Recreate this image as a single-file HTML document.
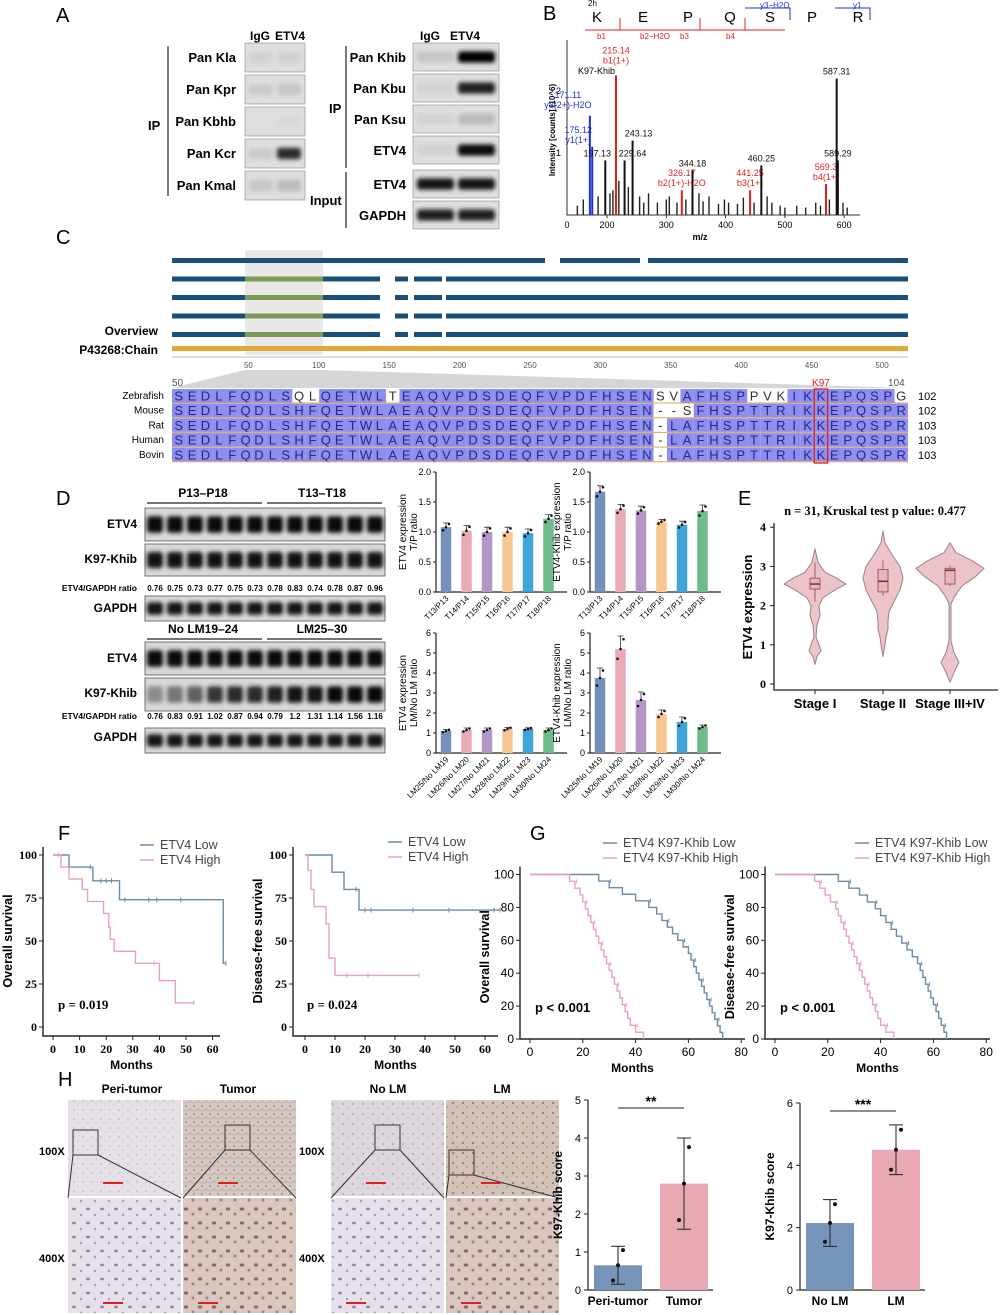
<!DOCTYPE html>
<html><head><meta charset="utf-8"><style>
html,body{margin:0;padding:0;background:#fff}
svg{display:block;font-family:"Liberation Sans",Arial,sans-serif}
.b{font-weight:bold}
.s{font-family:"Liberation Serif",serif;font-weight:bold}
</style></head><body>
<svg id="fig" width="1000" height="1315" viewBox="0 0 1000 1315" xmlns="http://www.w3.org/2000/svg">
<defs>
<filter id="bl" x="-20%" y="-50%" width="140%" height="200%"><feGaussianBlur stdDeviation="2.2"/></filter>
<pattern id="pPeri" width="9" height="9" patternUnits="userSpaceOnUse"><rect width="9" height="9" fill="#e4e0e6"/><circle cx="2" cy="3" r="0.8" fill="#b7aec4"/><circle cx="6" cy="7" r="0.6" fill="#c9c0cf"/></pattern>
<pattern id="pTum" width="8" height="8" patternUnits="userSpaceOnUse"><rect width="8" height="8" fill="#d6c9c4"/><circle cx="2" cy="2" r="1" fill="#a88f85"/><circle cx="6" cy="5" r="0.8" fill="#b39a94"/><path d="M0 7 L8 6" stroke="#c2aca6" stroke-width="0.7"/></pattern>
<pattern id="pPeri4" width="14" height="14" patternUnits="userSpaceOnUse"><rect width="14" height="14" fill="#e6e1e9"/><ellipse cx="4" cy="5" rx="2" ry="1.4" fill="#8f84a8"/><circle cx="11" cy="11" r="1.2" fill="#a69abb"/></pattern>
<pattern id="pTum4" width="14" height="14" patternUnits="userSpaceOnUse"><rect width="14" height="14" fill="#d9c7c0"/><ellipse cx="4" cy="5" rx="2.2" ry="1.6" fill="#8a6a63"/><circle cx="11" cy="10" r="1.5" fill="#a4837a"/></pattern>
<pattern id="pLM" width="10" height="10" patternUnits="userSpaceOnUse"><rect width="10" height="10" fill="#d2c2b8"/><circle cx="3" cy="3" r="1.1" fill="#9c7a6a"/><circle cx="7" cy="7" r="0.9" fill="#b08f7f"/></pattern>
<pattern id="pNoLM" width="10" height="10" patternUnits="userSpaceOnUse"><rect width="10" height="10" fill="#ddd6dc"/><circle cx="3" cy="4" r="0.9" fill="#a397b0"/><circle cx="8" cy="8" r="0.7" fill="#bdb1c2"/></pattern>
</defs>

<g class="letters" font-size="20">
<text x="56" y="22">A</text>
<text x="543" y="20">B</text>
<text x="56" y="244">C</text>
<text x="56" y="505">D</text>
<text x="738" y="505">E</text>
<text x="58" y="840">F</text>
<text x="530" y="840">G</text>
<text x="58" y="1086">H</text>
</g>

<g id="panelA" font-size="13" class="b">
<text x="260" y="40" class="b" font-size="12" text-anchor="middle">IgG</text>
<text x="290" y="40" class="b" font-size="12" text-anchor="middle">ETV4</text>
<text x="430" y="40" class="b" font-size="12" text-anchor="middle">IgG</text>
<text x="465" y="40" class="b" font-size="12" text-anchor="middle">ETV4</text>
<path d="M168 46 V196" stroke="#222" stroke-width="1.2"/>
<text x="148" y="130" class="b">IP</text>
<path d="M346 46 V168" stroke="#222" stroke-width="1.2"/>
<text x="329" y="113" class="b">IP</text>
<path d="M346 172 V228" stroke="#222" stroke-width="1.2"/>
<text x="310" y="205" class="b">Input</text>
</g>

<g id="panelC">
<text x="158" y="335" font-size="12" class="b" text-anchor="end">Overview</text>
<text x="158" y="354" font-size="12" class="b" text-anchor="end">P43268:Chain</text>
<rect x="245" y="250" width="78" height="105" fill="#e8e8e8"/>
<rect x="172" y="346" width="736" height="5" fill="#e0a838"/>
<path d="M245 370 L323 370 L908 388 L172 388 Z" fill="#d6d6d6"/>
<text x="172" y="386" font-size="10" fill="#555">50</text>
<text x="888" y="386" font-size="10" fill="#555">104</text>
</g>

<g id="panelD" font-size="12" class="b">
<text x="203" y="497" text-anchor="middle">P13–P18</text>
<text x="322" y="497" text-anchor="middle">T13–T18</text>
<path d="M147 503 H262 M267 503 H382" stroke="#222" stroke-width="1.3"/>
<text x="137" y="528" text-anchor="end">ETV4</text>
<text x="137" y="563" text-anchor="end">K97-Khib</text>
<text x="137" y="591" font-size="8.5" text-anchor="end">ETV4/GAPDH ratio</text>
<text x="137" y="612" text-anchor="end">GAPDH</text>
<text x="203" y="633" text-anchor="middle">No LM19–24</text>
<text x="322" y="633" text-anchor="middle">LM25–30</text>
<path d="M147 639 H262 M267 639 H382" stroke="#222" stroke-width="1.3"/>
<text x="137" y="662" text-anchor="end">ETV4</text>
<text x="137" y="697" text-anchor="end">K97-Khib</text>
<text x="137" y="719" font-size="8.5" text-anchor="end">ETV4/GAPDH ratio</text>
<text x="137" y="741" text-anchor="end">GAPDH</text>
</g>

<g id="panelH">
<text x="132" y="1093" font-size="12" class="b" text-anchor="middle">Peri-tumor</text>
<text x="238" y="1093" font-size="12" class="b" text-anchor="middle">Tumor</text>
<text x="388" y="1093" font-size="12" class="b" text-anchor="middle">No LM</text>
<text x="502" y="1093" font-size="12" class="b" text-anchor="middle">LM</text>
<text x="39" y="1155" font-size="11" class="b">100X</text>
<text x="39" y="1262" font-size="11" class="b">400X</text>
<text x="299" y="1155" font-size="11" class="b">100X</text>
<text x="299" y="1262" font-size="11" class="b">400X</text>
<rect x="68" y="1100" width="113" height="96" fill="url(#pPeri)"/>
<rect x="183" y="1100" width="113" height="96" fill="url(#pTum)"/>
<rect x="68" y="1198" width="113" height="115" fill="url(#pPeri4)"/>
<rect x="183" y="1198" width="113" height="115" fill="url(#pTum4)"/>
<rect x="331" y="1100" width="113" height="96" fill="url(#pNoLM)"/>
<rect x="446" y="1100" width="113" height="96" fill="url(#pLM)"/>
<rect x="331" y="1198" width="113" height="115" fill="url(#pPeri4)"/>
<rect x="446" y="1198" width="113" height="115" fill="url(#pTum4)"/>
<g fill="none" stroke="#333" stroke-width="1">
<rect x="73" y="1130" width="25" height="25"/><rect x="225" y="1125" width="25" height="25"/>
<rect x="375" y="1125" width="25" height="25"/><rect x="449" y="1150" width="25" height="25"/>
<path d="M73 1155 L68 1198 M98 1155 L181 1198 M225 1150 L183 1198 M250 1150 L296 1198 M375 1150 L331 1198 M400 1150 L444 1198 M449 1175 L446 1198 M474 1175 L559 1198"/>
</g>
<g stroke="#e02020" stroke-width="2">
<path d="M103 1183 H123 M218 1183 H238 M366 1183 H386 M481 1183 H501 M103 1303 H123 M198 1303 H218 M346 1303 H366 M461 1303 H481"/>
</g>
</g>

<g id="dyn"></g>
</svg>
<script>
// ===== DATA =====
const bMajorMz = [171.11, 175.12, 197.13, 215.14, 229.64, 243.13, 326.17, 344.18, 441.25, 460.25, 569.3, 587.31, 589.29];
const bMajorInt = [1.6, 1.1, 0.88, 2.25, 0.88, 1.2, 0.4, 0.72, 0.4, 0.8, 0.5, 2.2, 0.88];
const bMajorColor = ["blue","blue","black","red","black","black","red","black","red","black","red","black","black"];
const bMajorLabel = ["171.11\ny3(2+)-H2O","175.12\ny1(1+)","197.13","215.14\nb1(1+)","229.64","243.13","326.17\nb2(1+)-H2O","344.18","441.25\nb3(1+)","460.25","569.3\nb4(1+)","587.31","589.29"];
const bLabelDx = [-22,-14,-8,0,8,6,0,0,0,0,0,0,0];
const bMinorMz = [150,160,185,205,210,220,236,255,262,270,285,300,305,318,333,355,362,372,388,398,405,420,430,448,470,478,492,500,520,535,552,560,575,598,605];
const bMinorInt = [0.15,0.25,0.3,0.35,0.4,0.55,0.45,0.3,0.2,0.35,0.2,0.25,0.3,0.2,0.25,0.35,0.22,0.3,0.18,0.25,0.2,0.18,0.28,0.2,0.3,0.2,0.15,0.12,0.15,0.12,0.2,0.15,0.25,0.2,0.12];
const bXTicks = [200, 300, 400, 500, 600];
const bYTicks = [1, 2];

const cSpecies = ["Zebrafish","Mouse","Rat","Human","Bovin"];
const cSeqs = [
 "SEDLFQDLSQLQETWLTEAQVPDSDEQFVPDFHSENSVAFHSPPVKIKKEPQSPG",
 "SEDLFQDLSHFQETWLAEAQVPDSDEQFVPDFHSEN--SFHSPTTRIKKEPQSPR",
 "SEDLFQDLSHFQETWLAEAQVPDSDEQFVPDFHSEN-LAFHSPTTRIKKEPQSPR",
 "SEDLFQDLSHFQETWLAEAQVPDSDEQFVPDFHSEN-LAFHSPTTRIKKEPQSPR",
 "SEDLFQDLSHFQETWLAEAQVPDSDEQFVPDFHSEN-LAFHSPTTRIKKEPQSPR"];
const cEnds = ["102","102","103","103","103"];
const cOverviewTicks = [50,100,150,200,250,300,350,400,450,500];

const dLabelsTP = ["T13/P13","T14/P14","T15/P15","T16/P16","T17/P17","T18/P18"];
const dLabelsLM = ["LM25/No LM19","LM26/No LM20","LM27/No LM21","LM28/No LM22","LM29/No LM23","LM30/No LM24"];
const d1Vals = [1.08,1.02,1.0,1.0,0.98,1.22];
const d1Sd = [0.07,0.09,0.08,0.08,0.07,0.07];
const d2Vals = [1.67,1.38,1.36,1.17,1.12,1.35];
const d2Sd = [0.1,0.08,0.07,0.04,0.06,0.1];
const d3Vals = [1.1,1.15,1.15,1.2,1.2,1.15];
const d3Sd = [0.08,0.1,0.1,0.08,0.06,0.1];
const d4Vals = [3.75,5.2,2.65,1.95,1.55,1.3];
const d4Sd = [0.5,0.65,0.4,0.2,0.25,0.1];
const dTicksTP = [0.0,0.5,1.0,1.5,2.0];
const dTicksLM = [0,1,2,3,4,5,6];
const dRatiosTop = ["0.76","0.75","0.73","0.77","0.75","0.73","0.78","0.83","0.74","0.78","0.87","0.96"];
const dRatiosBottom = ["0.76","0.83","0.91","1.02","0.87","0.94","0.79","1.2","1.31","1.14","1.56","1.16"];
const dKhibBottomIntensity = [0.35,0.45,0.55,0.75,0.8,0.8,0.85,0.9,0.9,0.95,0.95,0.95];

const eCats = ["Stage I","Stage II","Stage III+IV"];
const eDensY = [[3.45,3.1,2.85,2.7,2.55,2.4,2.2,2.0,1.75,1.5,1.2,1.0,0.85,0.7,0.5],
                [3.9,3.6,3.3,3.0,2.7,2.4,2.1,1.85,1.6,1.4,1.2,1.0,0.7],
                [3.6,3.35,3.15,2.95,2.75,2.5,2.25,2.05,1.5,1.1,0.8,0.55,0.35,0.05]];
const eDensW = [[0,3,10,22,31,20,8,4,5,2,1,4,6,2,0],
                [0,2,9,17,20,17,11,6,5,5,3,2,0],
                [0,6,22,34,26,12,5,1,1,1,4,9,5,0]];
const eBox = [[2.42,2.55,2.7,2.1,3.1],[2.35,2.62,2.92,2.25,3.15],[2.55,2.9,2.95,2.5,3.02]];
const eTicks = [0,1,2,3,4];

const f1LowT = [0,6,15,25,64];  const f1LowS = [100,93,85,74,37]; const f1LowEnd = 65;
const f1HighT = [0,3,6,11,13,19,21,21.5,23,31,40,46]; const f1HighS = [100,93,86,80,73,66,58,51,44,37,27,14]; const f1HighEnd = 53;
const f1LowCens = [14,18,20,22,27,36,39,48,65];
const f1HighCens = [2,38,53];
const f2LowT = [0,9,13,18]; const f2LowS = [100,90,80,68]; const f2LowEnd = 65;
const f2HighT = [0,1,2,3,7,8,10]; const f2HighS = [100,91,80,70,60,40,30]; const f2HighEnd = 38;
const f2LowCens = [17,20,22,36,48,63,65];
const f2HighCens = [14,21,38];
const fXTicks = [0,10,20,30,40,50,60];
const fYTicks = [0,25,50,75,100];

const g1Low = [26,30,35,40,45,48,50,52,54,56,58,60,61,62,63,64,65,66,67,68,69,70,71,72,73];
const g1High = [15,17,19,20,21,22,23,24,25,26,27,28,29,30,31,32,33,34,35,36,37,38,40,43];
const g2Low = [24,28,32,35,38,40,42,44,46,48,50,52,54,55,56,57,58,59,60,61,62,63,64,65];
const g2High = [15,17,19,21,23,24,25,26,27,28,29,30,31,32,33,34,35,36,37,38,39,40,42,45];
const gXTicks = [0,20,40,60,80];
const gYTicks = [0,20,40,60,80,100];

const h1Cats = ["Peri-tumor","Tumor"]; const h1Vals = [0.65,2.8]; const h1Sd = [0.5,1.2];
const h2Cats = ["No LM","LM"]; const h2Vals = [2.15,4.5]; const h2Sd = [0.75,0.8];
const h1Ticks = [0,1,2,3,4,5]; const h2Ticks = [0,2,4,6];

// ===== DRAW =====
const NS = "http://www.w3.org/2000/svg";
const root = document.getElementById("dyn");
function mk(tag, a, name, parent){
  const el = document.createElementNS(NS, tag);
  for (const k in a) el.setAttribute(k, a[k]);
  
  
  (parent || root).appendChild(el);
  return el;
}
function txt(x,y,s,name,extra){
  const a = Object.assign({x:x,y:y,"font-size":11}, extra||{});
  const t = mk("text", a, name);
  t.textContent = s;
  return t;
}
const COLORS = ["#7391ba","#e8aab7","#b595c6","#f8c690","#3fa5d8","#6fbb8b"];

// ---- Panel A blots
function blot(x,y,w,h,bands,name){
  mk("rect",{x:x,y:y,width:w,height:h,fill:"#dedede",stroke:"#888","stroke-width":0.6},name+"-membrane");
  bands.forEach((b,i)=>{ if(b>0) mk("rect",{x:x+(i===0?4:w/2+2),y:y+h*0.3,width:w/2-6,height:h*0.4,rx:3,fill:"#000",opacity:b,filter:"url(#bl)"},name+"-band"); });
}
const aLeft = ["Pan Kla","Pan Kpr","Pan Kbhb","Pan Kcr","Pan Kmal"];
const aLeftBands = [[0.05,0.05],[0.08,0.1],[0,0.02],[0.08,0.8],[0.1,0.15]];
aLeft.forEach((l,i)=>{ const y=43+i*32; blot(245,y,60,29,aLeftBands[i],"blot-left-"+i); txt(236,y+19,l,"blot-label-"+i,{"font-size":13,"font-weight":"bold","text-anchor":"end"}); });
const aRight = ["Pan Khib","Pan Kbu","Pan Ksu","ETV4","ETV4","GAPDH"];
const aRightBands = [[0.1,1],[0.05,0.85],[0.05,0.15],[0.05,0.95],[0.9,0.9],[0.85,0.85]];
aRight.forEach((l,i)=>{ const y=43+i*31+(i>=4?3:0); blot(413,y,86,28,aRightBands[i],"blot-right-"+i); txt(406,y+19,l,"blot-right-label-"+i,{"font-size":13,"font-weight":"bold","text-anchor":"end"}); });

// ---- Panel B
const bx = v => 607 + (v-200)*0.593;
const by = v => 215 - v*62;
mk("path",{d:"M567 40 V215 H860",stroke:"#333",fill:"none","stroke-width":1},"b-axes");
txt(567,228,"0","b-x-tick-0",{"font-size":9,"text-anchor":"middle"});
bXTicks.forEach(t=>{ mk("path",{d:`M${bx(t)} 215 v3`,stroke:"#333"},"b-x-tick"); txt(bx(t),228,String(t),"b-x-tick-label",{"font-size":9,"text-anchor":"middle"}); });
bYTicks.forEach(t=>{ txt(561,by(t)+3,String(t),"b-y-tick-label",{"font-size":9,"text-anchor":"end"}); });
txt(700,240,"m/z","b-x-title",{"font-size":9,"font-weight":"bold","text-anchor":"middle"});
txt(0,0,"Intensity [counts] (10^6)","b-y-title",{"font-size":8,"font-weight":"bold","text-anchor":"middle",transform:"translate(555,130) rotate(-90)"});
bMinorMz.forEach((m,i)=>mk("line",{x1:bx(m),x2:bx(m),y1:215,y2:by(bMinorInt[i]),stroke:"#222","stroke-width":1.4},"b-minor-peak"));
const colMap = {blue:"#2030d0",red:"#e02020",black:"#111"};
bMajorMz.forEach((m,i)=>{
  mk("line",{x1:bx(m),x2:bx(m),y1:215,y2:by(bMajorInt[i]),stroke:colMap[bMajorColor[i]],"stroke-width":2},"b-peak");
  const parts = bMajorLabel[i].split("\n");
  const yOff = i===0?-8:(i===3?-12:-4);
  parts.forEach((p,j)=>txt(bx(m)+bLabelDx[i], by(bMajorInt[i]) + yOff - (parts.length-1-j)*10, p, "b-peak-label",{"font-size":9,fill:colMap[bMajorColor[i]],"text-anchor":"middle"}));
});
const bSeq = ["K","E","P","Q","S","P","R"]; const bSeqX = [597,643,688,730,770,812,858];
bSeq.forEach((s,i)=>txt(bSeqX[i],22,s,"b-seq-letter",{"font-size":15,"text-anchor":"middle"}));
mk("path",{d:"M585 30 H620 V18 M620 30 H660 M660 30 H700 V18 M700 30 H745 V18 M745 30 H785",stroke:"#e02020",fill:"none"},"b-b-ions");
mk("path",{d:"M745 8 H790 V20 M835 8 H870 V20",stroke:"#2030d0",fill:"none"},"b-y-ions");
txt(588,6,"2h","b-ann",{"font-size":8}); txt(597,39,"b1","b-ann",{"font-size":8,fill:"#e02020"});
txt(640,39,"b2−H2O","b-ann",{"font-size":8,fill:"#e02020"}); txt(680,39,"b3","b-ann",{"font-size":8,fill:"#e02020"}); txt(726,39,"b4","b-ann",{"font-size":8,fill:"#e02020"});
txt(760,8,"y3−H2O","b-ann",{"font-size":8,fill:"#2030d0"}); txt(853,8,"y1","b-ann",{"font-size":8,fill:"#2030d0"});
txt(578,74,"K97-Khib","b-ann",{"font-size":9});

// ---- Panel C
const cx = v => 178 + v*1.408;
const trackRows = [[[172,545],[560,640],[648,908]],[[172,380],[395,408],[414,442],[446,908]],[[172,380],[395,408],[414,442],[446,908]],[[172,380],[395,408],[414,442],[446,908]],[[172,380],[395,408],[414,442],[446,908]]];
trackRows.forEach((segs,r)=>segs.forEach(s=>{
  mk("rect",{x:s[0],y:258+r*18.5,width:s[1]-s[0],height:5,fill:"#1a4f7a"},"overview-track-"+r);
  if(r>0 && s[0]<245 ) mk("rect",{x:245,y:258+r*18.5,width:78,height:5,fill:"#7a9a55"},"overview-green-"+r);
}));
mk("line",{x1:172,x2:908,y1:357,y2:357,stroke:"#bbb"},"overview-axis");
cOverviewTicks.forEach(t=>{ txt(cx(t),368,String(t),"overview-tick",{"font-size":8,fill:"#555","text-anchor":"middle"}); });
const colW = 13.38, ax0 = 172;
cSeqs.forEach((s,r)=>{
  const y = 389 + r*14.7;
  txt(164,y+10,cSpecies[r],"species-label",{"font-size":10,"text-anchor":"end"});
  for(let i=0;i<s.length;i++){
    const diff = s[i] !== cSeqs[3][i] || s[i]==="-";
    mk("rect",{x:ax0+i*colW,y:y,width:colW,height:13.5,fill:diff?"#ffffff":"#8c8ff0"},"residue-cell");
    txt(ax0+i*colW+colW/2,y+11.5,s[i],"residue-letter",{"font-size":13,fill:diff?"#333":"#27278a","text-anchor":"middle"});
  }
  mk("line",{x1:ax0,x2:ax0+55*colW,y1:y+14,y2:y+14,stroke:"#e5a050","stroke-width":1},"row-separator");
  txt(918,y+11,cEnds[r],"row-end-number",{"font-size":11});
});
mk("rect",{x:ax0+48*colW,y:389,width:colW,height:74,fill:"none",stroke:"#e02020","stroke-width":1.3},"k97-box");
txt(ax0+48.5*colW,386,"K97","k97-label",{"font-size":10,fill:"#e02020","text-anchor":"middle"});

// ---- Panel D blots
function laneRow(y,h,intens,name){
  mk("rect",{x:145,y:y,width:240,height:h,fill:"#d8d8d8",stroke:"#555","stroke-width":0.8},name+"-membrane");
  intens.forEach((v,i)=>mk("rect",{x:147+i*20,y:y+h*0.25,width:16,height:h*0.5,rx:3,fill:"#000",opacity:v,filter:"url(#bl)"},name+"-band"));
}
laneRow(508,33,Array(12).fill(0.95),"d-etv4-top");
laneRow(544,32,Array(12).fill(0.9),"d-khib-top");
laneRow(596,25,Array(12).fill(0.9),"d-gapdh-top");
laneRow(642,33,Array(12).fill(0.95),"d-etv4-bottom");
laneRow(678,33,dKhibBottomIntensity,"d-khib-bottom");
laneRow(728,25,Array(12).fill(0.9),"d-gapdh-bottom");
dRatiosTop.forEach((r,i)=>txt(155+i*20,591,r,"ratio-top",{"font-size":8,"font-weight":"bold","text-anchor":"middle"}));
dRatiosBottom.forEach((r,i)=>txt(155+i*20,719,r,"ratio-bottom",{"font-size":8,"font-weight":"bold","text-anchor":"middle"}));

function barChart(ox,oy,top,maxV,vals,sd,labels,ticks,title1,title2,name){
  const w=131, bw=10.5, step=20.5;
  const y = v => oy - v/maxV*(oy-top);
  mk("path",{d:`M${ox} ${top} V${oy} H${ox+w}`,stroke:"#222",fill:"none","stroke-width":1.2},name+"-axes");
  ticks.forEach(t=>{ mk("line",{x1:ox-3,x2:ox,y1:y(t),y2:y(t),stroke:"#222"},name+"-ytick"); txt(ox-5,y(t)+3,(maxV<3?t.toFixed(1):String(t)),name+"-ytick-label",{"font-size":9,"text-anchor":"end"}); });
  vals.forEach((v,i)=>{
    const cxp = ox+10+i*step;
    mk("rect",{x:cxp-bw/2,y:y(v),width:bw,height:oy-y(v),fill:COLORS[i]},name+"-bar-"+i);
    mk("path",{d:`M${cxp} ${y(v)} V${y(v+sd[i])} M${cxp-3} ${y(v+sd[i])} H${cxp+3}`,stroke:"#333","stroke-width":0.8},name+"-errorbar");
    [-3,0,3].forEach(o=>mk("circle",{cx:cxp+o,cy:y(v+o*sd[i]/4),r:1.3,fill:"#111"},name+"-dot"));
    txt(0,0,labels[i],name+"-xlabel",{"font-size":8,"text-anchor":"end",transform:`translate(${cxp+3},${oy+7}) rotate(-45)`});
  });
  txt(0,0,title1,name+"-ytitle",{"font-size":10,"text-anchor":"middle",transform:`translate(${ox-30},${(top+oy)/2}) rotate(-90)`});
  txt(0,0,title2,name+"-ytitle2",{"font-size":10,"text-anchor":"middle",transform:`translate(${ox-19},${(top+oy)/2}) rotate(-90)`});
}
barChart(436,592,472,2,d1Vals,d1Sd,dLabelsTP,dTicksTP,"ETV4 expression","T/P ratio","d1");
barChart(590,592,472,2,d2Vals,d2Sd,dLabelsTP,dTicksTP,"ETV4-Khib expression","T/P ratio","d2");
barChart(436,753,633,6,d3Vals,d3Sd,dLabelsLM,dTicksLM,"ETV4 expression","LM/No LM ratio","d3");
barChart(590,753,633,6,d4Vals,d4Sd,dLabelsLM,dTicksLM,"ETV4-Khib expression","LM/No LM ratio","d4");

// ---- Panel E
const ey = v => 684 - v*39.2;
const eCx = [815,883,950];
mk("path",{d:"M774 523 V690 H998",stroke:"#222",fill:"none","stroke-width":1.3},"e-axes");
eTicks.forEach(t=>{ mk("line",{x1:770,x2:774,y1:ey(t),y2:ey(t),stroke:"#222"},"e-ytick"); txt(766,ey(t)+4,String(t),"e-ytick-label",{"font-size":12,"font-family":"Liberation Serif","font-weight":"bold","text-anchor":"end"}); });
txt(875,515,"n = 31, Kruskal test p value: 0.477","e-title",{"font-size":12.5,"font-family":"Liberation Serif","font-weight":"bold","text-anchor":"middle"});
txt(0,0,"ETV4 expression","e-ytitle",{"font-size":13,"font-weight":"bold","text-anchor":"middle",transform:"translate(752,607) rotate(-90)"});
eCats.forEach((c,i)=>{
  const Y=eDensY[i], W=eDensW[i], x0=eCx[i];
  let d = `M${x0} ${ey(Y[0])}`;
  for(let k=1;k<Y.length;k++) d+=` L${x0+W[k]} ${ey(Y[k])}`;
  for(let k=Y.length-2;k>=0;k--) d+=` L${x0-W[k]} ${ey(Y[k])}`;
  mk("path",{d:d+"Z",fill:"#ecc3c9",stroke:"#9a8387","stroke-width":1,"stroke-linejoin":"round"},"violin-"+i);
  const b=eBox[i];
  mk("path",{d:`M${x0} ${ey(b[3])} V${ey(b[4])}`,stroke:"#a05c68"},"violin-whisker-"+i);
  mk("rect",{x:x0-5,y:ey(b[2]),width:10,height:ey(b[0])-ey(b[2]),fill:"#e8b5bd",stroke:"#a05c68"},"violin-box-"+i);
  mk("line",{x1:x0-5,x2:x0+5,y1:ey(b[1]),y2:ey(b[1]),stroke:"#70303c","stroke-width":1.5},"violin-median-"+i);
  mk("line",{x1:x0,x2:x0,y1:690,y2:694,stroke:"#222"},"e-xtick");
  txt(x0,708,c,"e-xlabel",{"font-size":13,"font-weight":"bold","text-anchor":"middle"});
});

// ---- KM
function kmAxes(ox,oy,x0,xs,ys,xTicks,yTicks,xmaxPx,ylabel,name,serif){
  mk("path",{d:`M${ox} ${ys(yTicks[yTicks.length-1])-8} V${oy} H${xmaxPx}`,stroke:"#222",fill:"none","stroke-width":1.4},name+"-axes");
  const f = serif?{"font-family":"Liberation Serif","font-weight":"bold"}:{};
  yTicks.forEach(t=>{ mk("line",{x1:ox-4,x2:ox,y1:ys(t),y2:ys(t),stroke:"#222"},name+"-ytick"); txt(ox-6,ys(t)+4,String(t),name+"-ytick-label",Object.assign({"font-size":12,"text-anchor":"end"},f)); });
  xTicks.forEach(t=>{ mk("line",{x1:xs(t),x2:xs(t),y1:oy,y2:oy+4,stroke:"#222"},name+"-xtick"); txt(xs(t),oy+17,String(t),name+"-xtick-label",Object.assign({"font-size":12,"text-anchor":"middle"},f)); });
  txt((ox+xmaxPx)/2,oy+33,"Months",name+"-xtitle",{"font-size":12,"font-weight":"bold","text-anchor":"middle"});
  txt(0,0,ylabel,name+"-ytitle",{"font-size":12.5,"font-weight":"bold","text-anchor":"middle",transform:`translate(${ox-31},${(ys(0)+ys(yTicks[yTicks.length-1]))/2}) rotate(-90)`});
}
function kmSteps(T,S,end,xs,ys,color,name){
  let d=`M${xs(T[0])} ${ys(S[0])}`;
  for(let i=1;i<T.length;i++) d+=` H${xs(T[i])} V${ys(S[i])}`;
  d+=` H${xs(end)}`;
  mk("path",{d:d,fill:"none",stroke:color,"stroke-width":1.4},name);
}
function survAt(T,S,t){ let s=S[0]; for(let i=0;i<T.length;i++) if(T[i]<=t) s=S[i]; return s; }
function cens(ts,T,S,xs,ys,color,name){ ts.forEach(t=>mk("line",{x1:xs(t),x2:xs(t),y1:ys(survAt(T,S,t))-2.5,y2:ys(survAt(T,S,t))+2.5,stroke:color},name)); }
const BLUE="#6d8aa8", PINK="#e8a3ae";
function legend(x,y,labels,name){
  labels.forEach((l,i)=>{ mk("line",{x1:x,x2:x+14,y1:y+i*15,y2:y+i*15,stroke:i?PINK:BLUE,"stroke-width":1.5},name+"-swatch"); txt(x+20,y+i*15+4,l,name+"-label",{"font-size":12.5,fill:"#444"}); });
}
const f1x = v => 53 + v*2.66, fy = v => 1027 - v*1.72;
kmAxes(43,1036,0,f1x,fy,fXTicks,fYTicks,220,"Overall survival","f1",true);
kmSteps(f1LowT,f1LowS,f1LowEnd,f1x,fy,BLUE,"f1-low-curve");
kmSteps(f1HighT,f1HighS,f1HighEnd,f1x,fy,PINK,"f1-high-curve");
cens(f1LowCens,f1LowT,f1LowS,f1x,fy,BLUE,"f1-low-censor");
cens(f1HighCens,f1HighT,f1HighS,f1x,fy,PINK,"f1-high-censor");
legend(140,845,["ETV4 Low","ETV4 High"],"f1-legend");
txt(58,1009,"p = 0.019","f1-pvalue",{"font-size":13,"font-family":"Liberation Serif","font-weight":"bold"});
const f2x = v => 305 + v*3.0;
kmAxes(293,1036,0,f2x,fy,fXTicks,fYTicks,498,"Disease-free survival","f2",true);
kmSteps(f2LowT,f2LowS,f2LowEnd,f2x,fy,BLUE,"f2-low-curve");
kmSteps(f2HighT,f2HighS,f2HighEnd,f2x,fy,PINK,"f2-high-curve");
cens(f2LowCens,f2LowT,f2LowS,f2x,fy,BLUE,"f2-low-censor");
cens(f2HighCens,f2HighT,f2HighS,f2x,fy,PINK,"f2-high-censor");
legend(388,842,["ETV4 Low","ETV4 High"],"f2-legend");
txt(307,1009,"p = 0.024","f2-pvalue",{"font-size":13,"font-family":"Liberation Serif","font-weight":"bold"});
function evToSteps(ev){ const T=[0],S=[100]; ev.forEach((t,i)=>{ T.push(t); S.push(100*(1-(i+1)/ev.length)); }); return [T,S]; }
const gy = v => 1039 - v*1.645;
const g1x = v => 530 + v*2.64, g2x = v => 775 + v*2.64;
kmAxes(520,1039,0,g1x,gy,gXTicks,gYTicks,745,"Overall survival","g1",false);
kmAxes(765,1039,0,g2x,gy,gXTicks,gYTicks,990,"Disease-free survival","g2",false);
[[g1Low,g1x,BLUE,"g1-low-curve"],[g1High,g1x,PINK,"g1-high-curve"],[g2Low,g2x,BLUE,"g2-low-curve"],[g2High,g2x,PINK,"g2-high-curve"]].forEach(a=>{
  const st=evToSteps(a[0]); kmSteps(st[0],st[1],a[0][a[0].length-1],a[1],gy,a[2],a[3]);
  a[0].forEach((t,i)=>{ if(i%3===1) mk("line",{x1:a[1](t)+1.5,x2:a[1](t)+1.5,y1:gy(st[1][i])-2,y2:gy(st[1][i])+2,stroke:a[2]},a[3]+"-censor"); });
});
legend(603,843,["ETV4 K97-Khib Low","ETV4 K97-Khib High"],"g1-legend");
legend(855,843,["ETV4 K97-Khib Low","ETV4 K97-Khib High"],"g2-legend");
txt(535,1012,"p < 0.001","g1-pvalue",{"font-size":13,"font-weight":"bold"});
txt(780,1012,"p < 0.001","g2-pvalue",{"font-size":13,"font-weight":"bold"});

// ---- Panel H bars
function hBars(ox,oy,top,maxV,ticks,cats,vals,sd,star,name){
  const y = v => oy - v/maxV*(oy-top);
  mk("path",{d:`M${ox} ${top} V${oy} H${ox+125}`,stroke:"#222",fill:"none","stroke-width":1.2},name+"-axes");
  ticks.forEach(t=>{ mk("line",{x1:ox-4,x2:ox,y1:y(t),y2:y(t),stroke:"#222"},name+"-ytick"); txt(ox-7,y(t)+4,String(t),name+"-ytick-label",{"font-size":11,"text-anchor":"end"}); });
  const cxs=[ox+30,ox+96];
  vals.forEach((v,i)=>{
    mk("rect",{x:cxs[i]-24,y:y(v),width:48,height:oy-y(v),fill:i?"#e8a9b4":"#7794bb"},name+"-bar-"+i);
    mk("path",{d:`M${cxs[i]} ${y(Math.max(0,v-sd[i]))} V${y(v+sd[i])} M${cxs[i]-7} ${y(v+sd[i])} H${cxs[i]+7} M${cxs[i]-7} ${y(Math.max(0,v-sd[i]))} H${cxs[i]+7}`,stroke:"#222","stroke-width":1},name+"-errorbar-"+i);
    [-0.8,0,0.8].forEach((o,k)=>mk("circle",{cx:cxs[i]+(k-1)*5,cy:y(Math.max(0,v+o*sd[i])),r:2,fill:"#111"},name+"-dot"));
    txt(cxs[i],oy+15,cats[i],name+"-xlabel",{"font-size":12,"font-weight":"bold","text-anchor":"middle"});
  });
  const sy = top+8;
  mk("line",{x1:cxs[0],x2:cxs[1],y1:sy,y2:sy,stroke:"#222"},name+"-sig-line");
  txt((cxs[0]+cxs[1])/2,sy-2,star,name+"-sig-stars",{"font-size":14,"font-weight":"bold","text-anchor":"middle"});
  txt(0,0,"K97-Khib score",name+"-ytitle",{"font-size":12,"font-weight":"bold","text-anchor":"middle",transform:`translate(${ox-26},${(top+oy)/2}) rotate(-90)`});
}
hBars(588,1290,1100,5,h1Ticks,h1Cats,h1Vals,h1Sd,"**","h1");
hBars(800,1290,1103,6,h2Ticks,h2Cats,h2Vals,h2Sd,"***","h2");
</script>
</body></html>
